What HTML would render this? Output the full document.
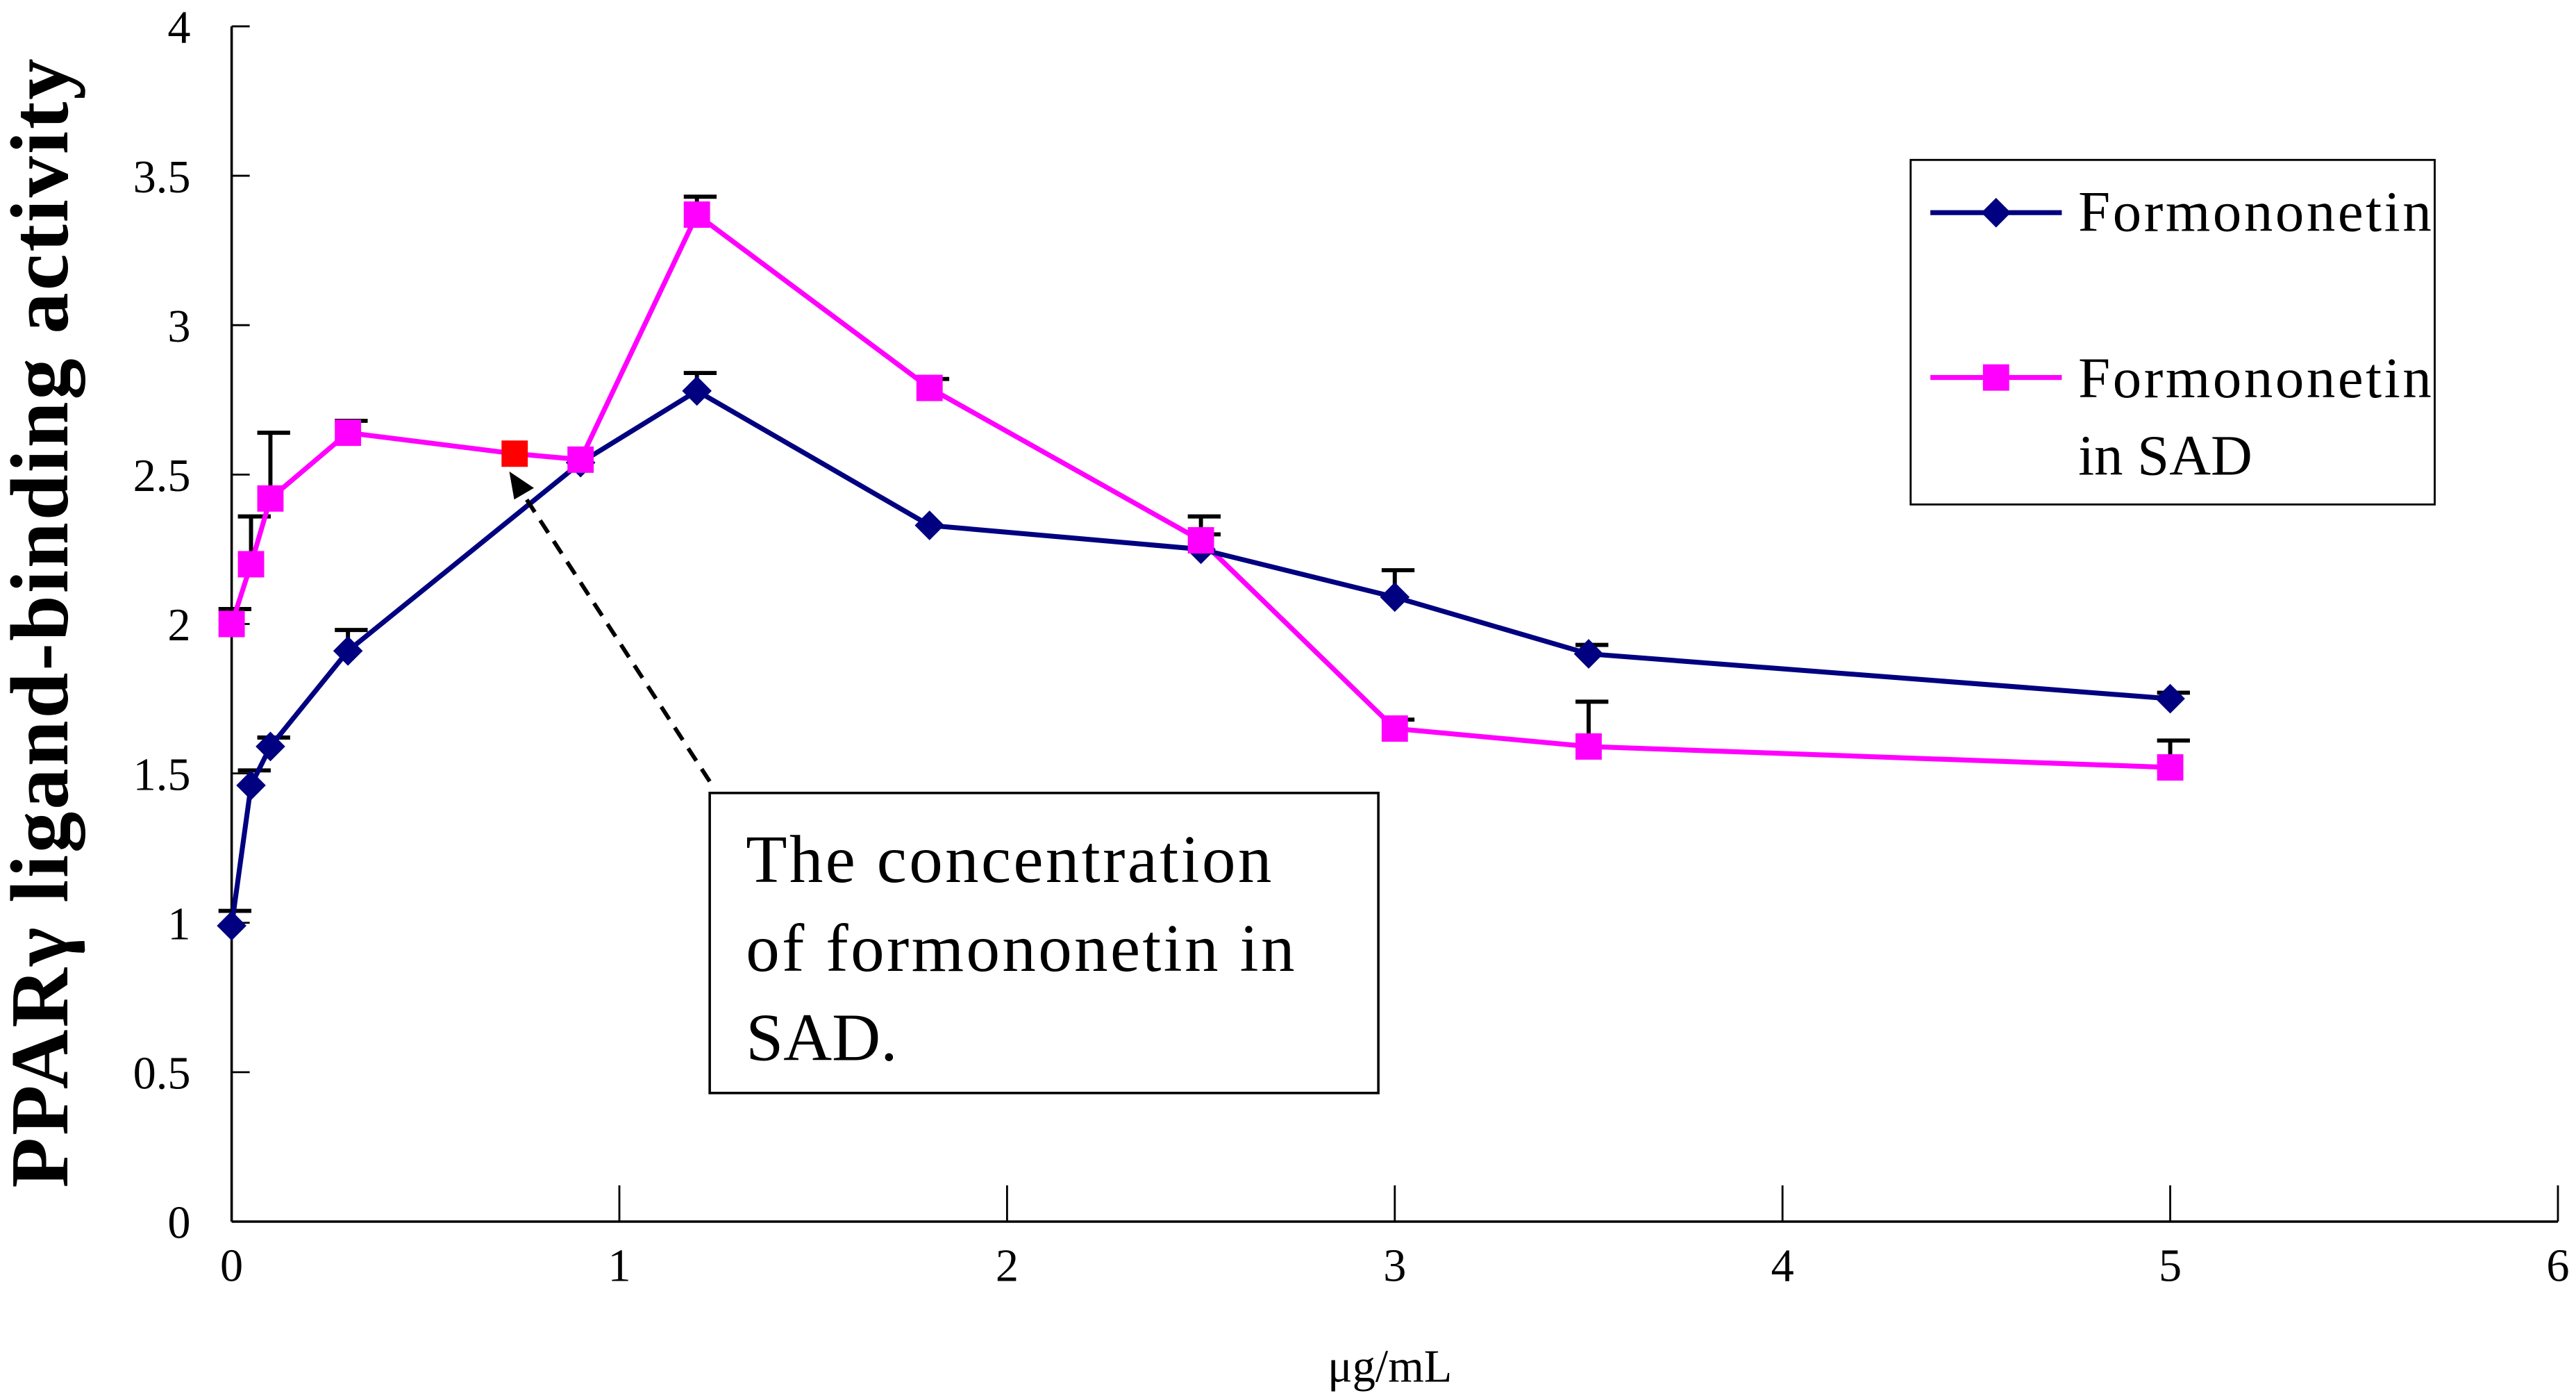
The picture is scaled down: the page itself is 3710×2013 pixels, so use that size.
<!DOCTYPE html>
<html><head><meta charset="utf-8"><style>html,body{margin:0;padding:0;background:#fff}svg{display:block}</style></head>
<body>
<svg id="chart" width="3710" height="2013" viewBox="0 0 1568 848" preserveAspectRatio="none" xmlns="http://www.w3.org/2000/svg" font-family="'Liberation Serif', serif">
<rect width="1568" height="848" fill="#fff"/>
<g id="axes"></g>
<g id="series"></g>
<g>
<rect x="1163" y="97" width="319" height="209" fill="#fff" stroke="#000" stroke-width="1.2"/>
<line x1="1175" y1="129" x2="1255" y2="129" stroke="#000080" stroke-width="3"/>
<polygon points="1215,120 1224,129 1215,138 1206,129" fill="#000080"/>
<text x="1265" y="140" font-size="35" textLength="215">Formononetin</text>
<line x1="1175" y1="229" x2="1255" y2="229" stroke="#ff00ff" stroke-width="3"/>
<rect x="1207" y="221" width="16" height="16" fill="#ff00ff"/>
<text x="1265" y="241" font-size="35" textLength="215">Formononetin</text>
<text x="1265" y="288" font-size="35">in SAD</text>
</g>
<g>
<line x1="432" y1="474" x2="316" y2="296" stroke="#000" stroke-width="2.5" stroke-dasharray="9,6"/>
<polygon points="310,286 325,296 313,303" fill="#000"/>
<rect x="432" y="481" width="407" height="182" fill="#fff" stroke="#000" stroke-width="1.5"/>
<text x="454" y="535" font-size="41" textLength="320">The concentration</text>
<text x="454" y="589" font-size="41" textLength="334">of formononetin in</text>
<text x="454" y="643" font-size="41">SAD.</text>
</g>
<text transform="translate(41,378) rotate(-90)" text-anchor="middle" font-size="50" font-weight="bold" textLength="685">PPARγ ligand-binding activity</text>
<text x="846" y="838" text-anchor="middle" font-size="28">μg/mL</text>
</svg>
<script>
const xTicks=[0,1,2,3,4,5,6];
const yTicks=[0,0.5,1,1.5,2,2.5,3,3.5,4];
const concF=[0,0.05,0.1,0.3,0.9,1.2,1.8,2.5,3,3.5,5];
const valF=[0.99,1.46,1.59,1.91,2.54,2.78,2.33,2.25,2.09,1.90,1.75];
const errF=[1.04,1.51,1.62,1.98,2.54,2.84,2.33,2.36,2.18,1.93,1.77];
const concS=[0,0.05,0.1,0.3,0.73,0.9,1.2,1.8,2.5,3,3.5,5];
const valS=[2.0,2.2,2.42,2.64,2.57,2.55,3.37,2.79,2.28,1.65,1.59,1.52];
const errS=[2.05,2.36,2.64,2.68,2.57,2.55,3.43,2.82,2.30,1.68,1.74,1.61];
const highlightS=[0,0,0,0,1,0,0,0,0,0,0,0];
const NS='http://www.w3.org/2000/svg';
const X0=141,X1=1557,Y0=741,Y1=16;
const sx=v=>X0+(v-0)/6*(X1-X0);
const sy=v=>Y0-(v-0)/4*(Y0-Y1);
function mk(t,a,p){const e=document.createElementNS(NS,t);for(const k in a)e.setAttribute(k,a[k]);p.appendChild(e);return e;}
const ax=document.getElementById('axes'),se=document.getElementById('series');
let l=mk('line',{x1:X0,y1:Y1,x2:X0,y2:Y0,stroke:'#000','stroke-width':1.5},ax);


l=mk('line',{x1:X0,y1:Y0,x2:X1,y2:Y0,stroke:'#000','stroke-width':1.5},ax);


yTicks.forEach(v=>{mk('line',{x1:X0,y1:sy(v),x2:X0+11,y2:sy(v),stroke:'#000','stroke-width':1.2},ax);
const t=mk('text',{x:116,y:sy(v)+10,'text-anchor':'end','font-size':28},ax);t.textContent=v;

});
xTicks.forEach(v=>{mk('line',{x1:sx(v),y1:Y0,x2:sx(v),y2:Y0-22,stroke:'#000','stroke-width':1.2},ax);
const t=mk('text',{x:sx(v),y:Y0+36,'text-anchor':'middle','font-size':28},ax);t.textContent=v;

});
function errs(c,v,e){c.forEach((x,i)=>{if(e[i]-v[i]<0.005)return;
mk('line',{x1:sx(x),y1:sy(v[i]),x2:sx(x),y2:sy(e[i]),stroke:'#000','stroke-width':2.5},se);
mk('line',{x1:sx(x)-8,y1:sy(e[i]),x2:sx(x)+12,y2:sy(e[i]),stroke:'#000','stroke-width':2.5},se);});}
errs(concF,valF,errF);errs(concS,valS,errS);
let p=mk('polyline',{points:concS.map((x,i)=>sx(x)+','+sy(valS[i])).join(' '),fill:'none',stroke:'#ff00ff','stroke-width':3},se);


p=mk('polyline',{points:concF.map((x,i)=>sx(x)+','+sy(valF[i])).join(' '),fill:'none',stroke:'#000080','stroke-width':3},se);


concF.forEach((x,i)=>{const cx=sx(x),cy=sy(valF[i]);
const d=mk('polygon',{points:`${cx},${cy-9} ${cx+9},${cy} ${cx},${cy+9} ${cx-9},${cy}`,fill:'#000080'},se);

});
concS.forEach((x,i)=>{const cx=sx(x),cy=sy(valS[i]);
const r=mk('rect',{x:cx-8,y:cy-8,width:16,height:16,fill:highlightS[i]?'#ff0000':'#ff00ff'},se);

});
</script>
</body></html>
